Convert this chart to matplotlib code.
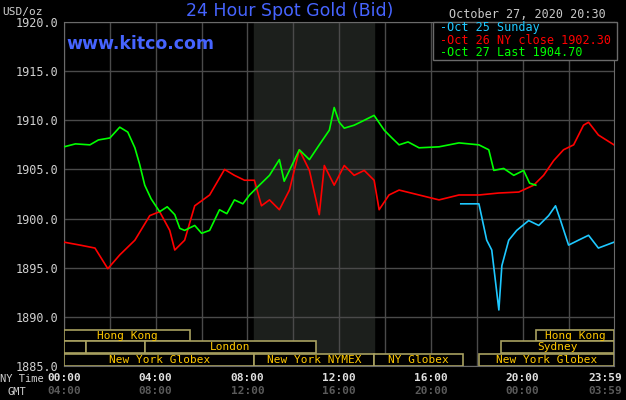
import matplotlib
matplotlib.use("Agg")
import matplotlib.pyplot as plt
from matplotlib.patches import Rectangle

# Oct 27 (green), hours NY time / price
g_h = [0, 0.5, 1.13, 1.5, 2.0, 2.43, 2.78, 3.09, 3.3, 3.52, 3.8, 4.17, 4.5, 4.83, 5.05, 5.26, 5.7, 6.0,
       6.35, 6.78, 7.1, 7.43, 7.8, 8.09, 8.52, 8.96, 9.39, 9.6, 9.83, 10.26, 10.7, 11.13, 11.57, 11.78,
       12.0, 12.22, 12.65, 13.09, 13.52, 13.96, 14.3, 14.61, 15.0, 15.48, 16.35, 17.22, 18.09, 18.52,
       18.74, 19.17, 19.61, 20.04, 20.3, 20.57]
g_p = [1907.3, 1907.6, 1907.5, 1908.0, 1908.2, 1909.3, 1908.8, 1907.2, 1905.5, 1903.4, 1902.0, 1900.7,
       1901.2, 1900.4, 1899.0, 1898.8, 1899.3, 1898.5, 1898.8, 1900.9, 1900.5, 1901.9, 1901.5, 1902.4,
       1903.4, 1904.4, 1906.0, 1903.8, 1904.9, 1907.0, 1906.0, 1907.5, 1909.0, 1911.3, 1909.8, 1909.2,
       1909.5, 1910.0, 1910.5, 1909.0, 1908.2, 1907.5, 1907.8, 1907.2, 1907.3, 1907.7, 1907.5, 1907.0,
       1904.9, 1905.1, 1904.4, 1904.9, 1903.6, 1903.4]

# Oct 26 (red)
r_h = [0, 0.7, 1.35, 1.91, 2.43, 3.09, 3.74, 4.17, 4.61, 4.83, 5.26, 5.7, 6.35, 7.0, 7.43, 7.87, 8.3,
       8.61, 8.96, 9.39, 9.83, 10.26, 10.7, 11.13, 11.35, 11.78, 12.22, 12.65, 13.09, 13.52, 13.74,
       14.17, 14.61, 15.48, 16.35, 17.22, 18.09, 18.96, 19.83, 20.48, 20.91, 21.35, 21.78, 22.22,
       22.65, 22.87, 23.3, 23.98]
r_p = [1897.6, 1897.3, 1897.0, 1894.9, 1896.3, 1897.8, 1900.3, 1900.7, 1898.8, 1896.8, 1897.8, 1901.3,
       1902.4, 1905.0, 1904.4, 1903.9, 1903.9, 1901.3, 1901.9, 1900.9, 1902.9, 1907.0, 1904.9, 1900.4,
       1905.4, 1903.4, 1905.4, 1904.4, 1904.9, 1903.9, 1900.9, 1902.4, 1902.9, 1902.4, 1901.9, 1902.4,
       1902.4, 1902.6, 1902.7, 1903.4, 1904.4, 1905.9, 1907.0, 1907.5, 1909.5, 1909.8, 1908.5, 1907.5]

# Oct 25 (cyan)
c_h = [17.3, 18.09, 18.43, 18.65, 18.96, 19.09, 19.39, 19.74, 20.26, 20.7, 21.13, 21.43, 21.65, 22.0,
       22.43, 22.87, 23.3, 23.98]
c_p = [1901.5, 1901.5, 1897.8, 1896.8, 1890.7, 1895.2, 1897.8, 1898.8, 1899.8, 1899.3, 1900.3, 1901.3,
       1899.8, 1897.3, 1897.8, 1898.3, 1897.0, 1897.6]

# market sessions: (row, start hour, end hour, label)
sessions = [(0, 0, 5.5, "Hong Kong"), (0, 20.57, 24, "Hong Kong"),
            (1, 0, 0.96, ""), (1, 0.96, 3.52, ""), (1, 3.52, 11.0, "London"), (1, 19.04, 24, "Sydney"),
            (2, 0, 6.09, ""), (2, 0, 8.3, "New York Globex"), (2, 8.3, 13.52, "New York NYMEX"),
            (2, 13.52, 17.39, "NY Globex"), (2, 18.09, 24, "New York Globex")]
row_y = [1887.5, 1886.3, 1885.05]

mono = "DejaVu Sans Mono"
fig = plt.figure(figsize=(6.26, 4), dpi=100, facecolor="black")
ax = fig.add_axes([64/626, 34/400, 550/626, 344/400], facecolor="black")
ax.set_xlim(0, 23.98)
ax.set_ylim(1885, 1920)

ax.axvspan(8.3, 13.52, color="#1c1f1c", zorder=0)
for h in range(0, 24, 2):
    ax.axvline(h, color="#4a4a4a", lw=1, zorder=1)
for p in range(1885, 1921, 5):
    ax.axhline(p, color="#4a4a4a", lw=1, zorder=1)

ax.plot(c_h, c_p, color="#1ec8ff", lw=1.2, zorder=3)
ax.plot(r_h, r_p, color="#ff0000", lw=1.2, zorder=3)
ax.plot(g_h, g_p, color="#00ff00", lw=1.2, zorder=4)

for row, a, b, lab in sessions:
    ax.add_patch(Rectangle((a, row_y[row]), b - a, 1.2, facecolor="black",
                           edgecolor="#a8a060", lw=1.2, zorder=5))
    if lab:
        ax.text((a + b) / 2, row_y[row] + 0.6, lab, color="#ffc800", fontsize=8,
                family=mono, ha="center", va="center", zorder=6)

ax.set_yticks(range(1885, 1921, 5))
ax.set_yticklabels([f"{p}.0" for p in range(1885, 1921, 5)], family=mono,
                   color="#d0d0d0", fontsize=8.5)
ax.tick_params(length=0, pad=4)
ax.set_xticks([])
for s in ax.spines.values():
    s.set_color("#6a6a6a")

xt = [0, 4, 8, 12, 16, 20, 23.98]
ny_lab = ["00:00", "04:00", "08:00", "12:00", "16:00", "20:00", "23:59"]
gmt_lab = ["04:00", "08:00", "12:00", "16:00", "20:00", "00:00", "03:59"]
for h, a, b in zip(xt, ny_lab, gmt_lab):
    ha = "center" if h < 23 else "right"
    xo = h if h < 23 else 24.35
    ax.text(xo, -0.036, a, transform=ax.get_xaxis_transform(), ha=ha, va="center",
            color="#e0e0e0", fontsize=8, family=mono, weight="bold")
    ax.text(xo, -0.073, b, transform=ax.get_xaxis_transform(), ha=ha, va="center",
            color="#5a5a5a", fontsize=8, family=mono, weight="bold")
fig.text(0, 21/400, "NY Time", color="#d0d0d0", fontsize=7.5, family=mono, va="center")
fig.text(8/626, 8/400, "GMT", color="#d0d0d0", fontsize=7.5, family=mono, va="center")
fig.text(2/626, 388/400, "USD/oz", color="#d0d0d0", fontsize=8, family=mono, va="center")

fig.text(290/626, 389/400, "24 Hour Spot Gold (Bid)", color="#4664ff", fontsize=12.5,
         ha="center", va="center")
fig.text(66/626, 356/400, "www.kitco.com", color="#4664ff", fontsize=12.5,
         weight="bold", va="center")
fig.text(606/626, 386/400, "October 27, 2020 20:30", color="#c8c8c8", fontsize=8.5,
         family=mono, ha="right", va="center")

leg = Rectangle((433/626, 340/400), 184/626, 38/400, transform=fig.transFigure,
                facecolor="black", edgecolor="#6a6a6a", lw=1, zorder=10)
fig.add_artist(leg)
for i, (txt, col) in enumerate([("-Oct 25 Sunday", "#1ec8ff"),
                                ("-Oct 26 NY close 1902.30", "#ff0000"),
                                ("-Oct 27 Last 1904.70", "#00ff00")]):
    fig.text(440/626, (372 - 12.5 * i)/400, txt, color=col, fontsize=8.5, family=mono,
             va="center", zorder=11)

fig.savefig("out.png", facecolor="black")
